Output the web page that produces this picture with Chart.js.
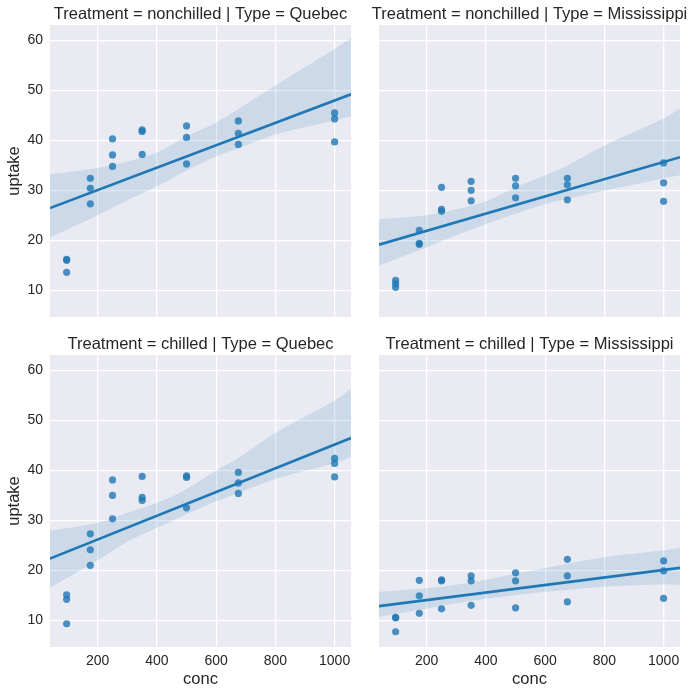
<!DOCTYPE html>
<html><head><meta charset="utf-8">
<script src="https://cdn.jsdelivr.net/npm/chart.js@4"></script>
<style>
html,body{margin:0;padding:0;background:#fff;}
body{width:695px;height:695px;position:relative;overflow:hidden;}
.p{position:absolute;}
</style></head><body>
<div class="p" style="left:0;top:0;width:351px;height:317px"><canvas id="c0"></canvas></div>
<div class="p" style="left:359px;top:0;width:336px;height:317px"><canvas id="c1"></canvas></div>
<div class="p" style="left:0;top:330px;width:351px;height:365px"><canvas id="c2"></canvas></div>
<div class="p" style="left:359px;top:330px;width:336px;height:365px"><canvas id="c3"></canvas></div>
<script>
// ---- data (CO2 dataset) ----
const conc = [95, 175, 250, 350, 500, 675, 1000];
const uptakeQn1 = [16.0, 30.4, 34.8, 37.2, 35.3, 39.2, 39.7];
const uptakeQn2 = [13.6, 27.3, 37.1, 41.8, 40.6, 41.4, 44.3];
const uptakeQn3 = [16.2, 32.4, 40.3, 42.1, 42.9, 43.9, 45.5];
const uptakeQc1 = [14.2, 24.1, 30.3, 34.6, 32.5, 35.4, 38.7];
const uptakeQc2 = [9.3, 27.3, 35.0, 38.8, 38.6, 37.5, 42.4];
const uptakeQc3 = [15.1, 21.0, 38.1, 34.0, 38.9, 39.6, 41.4];
const uptakeMn1 = [10.6, 19.2, 26.2, 30.0, 30.9, 32.4, 35.5];
const uptakeMn2 = [12.0, 22.0, 30.6, 31.8, 32.4, 31.1, 31.5];
const uptakeMn3 = [11.3, 19.4, 25.8, 27.9, 28.5, 28.1, 27.8];
const uptakeMc1 = [10.5, 14.9, 18.1, 18.9, 19.5, 22.2, 21.9];
const uptakeMc2 = [7.7, 11.4, 12.3, 13.0, 12.5, 13.7, 14.4];
const uptakeMc3 = [10.6, 18.0, 17.9, 17.9, 17.9, 18.9, 19.9];

// confidence band edges
const bandConc = [39, 200, 300, 400, 500, 600, 675, 800, 1000, 1055];
const bandUpperQn = [33.2, 34.5, 35.8, 37.6, 40.8, 43.6, 46.3, 51.0, 58.3, 60.5];
const bandLowerQn = [20.6, 25.0, 28.0, 30.8, 34.0, 36.8, 38.4, 41.2, 44.0, 44.9];
const bandUpperMn = [24.2, 25.0, 26.2, 27.8, 30.6, 33.0, 35.0, 39.0, 44.4, 46.4];
const bandLowerMn = [14.9, 18.6, 21.0, 23.2, 25.3, 27.2, 28.3, 29.9, 32.4, 33.0];
const bandUpperQc = [27.9, 29.5, 31.5, 33.5, 36.3, 40.0, 42.5, 47.5, 54.0, 56.3];
const bandLowerQc = [16.5, 22.0, 25.7, 28.5, 31.2, 33.8, 35.5, 38.3, 41.5, 42.7];
const bandUpperMc = [15.7, 16.4, 17.1, 18.1, 19.3, 20.4, 21.3, 22.6, 24.0, 24.5];
const bandLowerMc = [10.7, 12.3, 13.4, 14.3, 15.0, 15.7, 16.1, 16.7, 17.2, 17.1];

const xTicks = [200, 400, 600, 800, 1000];
const yTicks = [10, 20, 30, 40, 50, 60];
const xRange = [38.8, 1055.4];
const yRange = [4.65, 63.1];

const titles = [
  'Treatment = nonchilled | Type = Quebec',
  'Treatment = nonchilled | Type = Mississippi',
  'Treatment = chilled | Type = Quebec',
  'Treatment = chilled | Type = Mississippi'
];
const panels = [
  {plants: [uptakeQn1, uptakeQn2, uptakeQn3], up: bandUpperQn, lo: bandLowerQn},
  {plants: [uptakeMn1, uptakeMn2, uptakeMn3], up: bandUpperMn, lo: bandLowerMn},
  {plants: [uptakeQc1, uptakeQc2, uptakeQc3], up: bandUpperQc, lo: bandLowerQc},
  {plants: [uptakeMc1, uptakeMc2, uptakeMc3], up: bandUpperMc, lo: bandLowerMc}
];

const FONT = "'Liberation Sans', Arial, sans-serif";
const TXT = '#262626';

function fit(xs, ys) {
  const n = xs.length;
  const mx = xs.reduce((a, b) => a + b, 0) / n;
  const my = ys.reduce((a, b) => a + b, 0) / n;
  let sxy = 0, sxx = 0;
  for (let i = 0; i < n; i++) { sxy += (xs[i] - mx) * (ys[i] - my); sxx += (xs[i] - mx) ** 2; }
  const b = sxy / sxx;
  return x => my + b * (x - mx);
}

const bgPlugin = {
  id: 'bg',
  beforeDraw(chart) {
    const {ctx, chartArea: a} = chart;
    ctx.save();
    ctx.fillStyle = '#EAEAF2';
    ctx.fillRect(a.left, a.top, a.right - a.left, a.bottom - a.top);
    ctx.restore();
  }
};
const titlePlugin = {
  id: 'facetTitle',
  afterDraw(chart, args, opts) {
    const {ctx, chartArea: a} = chart;
    ctx.save();
    ctx.font = '16.5px ' + FONT;
    ctx.fillStyle = TXT;
    ctx.textAlign = 'center';
    ctx.textBaseline = 'alphabetic';
    ctx.fillText(opts.text, (a.left + a.right) / 2, a.top - 6.5);
    ctx.restore();
  }
};
function noPad(s) { s.paddingTop = 0; s.paddingBottom = 0; s.paddingLeft = 0; s.paddingRight = 0; }

panels.forEach((p, k) => {
  const left = (k % 2 === 0);
  const bottom = (k >= 2);
  const xs = [], ys = [];
  const pts = [];
  p.plants.forEach(arr => arr.forEach((v, i) => { xs.push(conc[i]); ys.push(v); pts.push({x: conc[i], y: v}); }));
  const f = fit(xs, ys);
  const linePts = [{x: xRange[0], y: f(xRange[0])}, {x: xRange[1], y: f(xRange[1])}];
  const upPts = bandConc.map((c, i) => ({x: c, y: p.up[i]}));
  const loPts = bandConc.map((c, i) => ({x: c, y: p.lo[i]}));

  new Chart(document.getElementById('c' + k), {
    type: 'scatter',
    data: {
      datasets: [
        {data: pts, backgroundColor: 'rgba(31,119,180,0.8)', borderWidth: 0, pointRadius: 3.6, order: 0},
        {data: linePts, showLine: true, borderColor: '#1f77b4', borderWidth: 2.6, pointRadius: 0, order: 1},
        {data: upPts, showLine: true, borderWidth: 0, borderColor: 'rgba(0,0,0,0)', pointRadius: 0, tension: 0.35, order: 2},
        {data: loPts, showLine: true, borderWidth: 0, borderColor: 'rgba(0,0,0,0)', pointRadius: 0, tension: 0.35,
         fill: {target: 2}, backgroundColor: 'rgba(31,119,180,0.15)', order: 3}
      ]
    },
    options: {
      responsive: true, maintainAspectRatio: false, animation: false,
      layout: {autoPadding: false, padding: {top: 25, left: left ? 0 : 20, right: left ? 0 : 15, bottom: 0}},
      plugins: {legend: {display: false}, tooltip: {enabled: false}, facetTitle: {text: titles[k]}},
      scales: {
        x: {
          type: 'linear', min: xRange[0], max: xRange[1],
          afterBuildTicks: s => { s.ticks = xTicks.map(v => ({value: v})); },
          afterFit: s => { s.height = bottom ? 48 : 0; noPad(s); },
          grid: {color: '#ffffff', lineWidth: 1.3, drawTicks: false},
          border: {display: false},
          ticks: {display: bottom, color: TXT, font: {family: FONT, size: 14}, padding: 6, maxRotation: 0,
                  callback: v => String(v)},
          title: {display: bottom, text: 'conc', color: TXT, font: {family: FONT, size: 16.5}, padding: {top: 0, bottom: 6}}
        },
        y: {
          type: 'linear', min: yRange[0], max: yRange[1],
          afterBuildTicks: s => { s.ticks = yTicks.map(v => ({value: v})); },
          afterFit: s => { s.width = left ? 50 : 0; noPad(s); },
          grid: {color: '#ffffff', lineWidth: 1.3, drawTicks: false},
          border: {display: false},
          ticks: {display: left, color: TXT, font: {family: FONT, size: 14}, padding: 7, callback: v => String(v)},
          title: {display: left, text: 'uptake', color: TXT, font: {family: FONT, size: 16.5}, padding: {top: 5, bottom: 0}}
        }
      }
    },
    plugins: [bgPlugin, titlePlugin]
  });
});
</script>
</body></html>
